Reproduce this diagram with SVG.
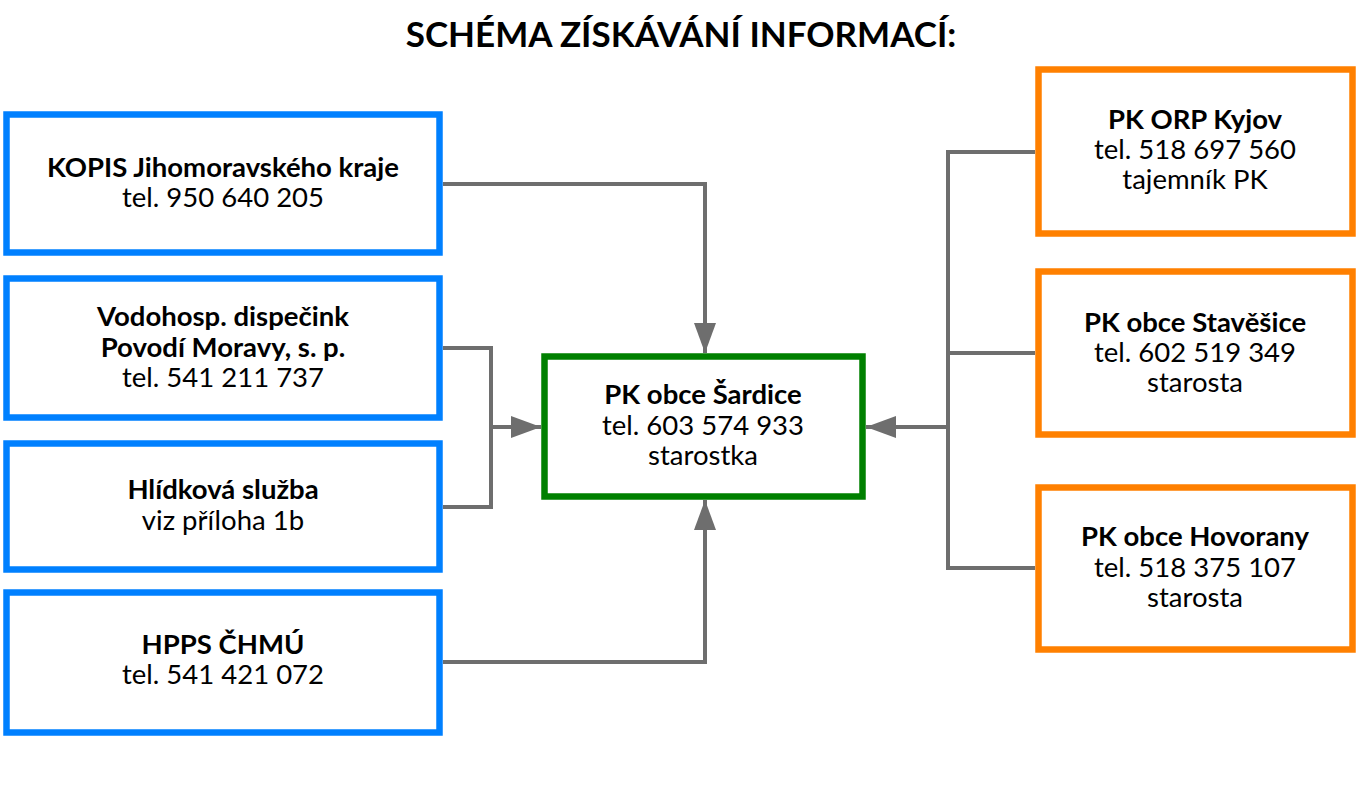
<svg xmlns="http://www.w3.org/2000/svg" width="1360" height="787" viewBox="0 0 1360 787">
<style>
.box{fill:#fff;stroke-width:6.5;stroke-linejoin:miter}
.blue{stroke:#0080ff}
.green{stroke:#008000}
.orange{stroke:#ff8000}
.t{font-family:Lato,"Liberation Sans",sans-serif;font-size:27.5px;fill:#000;text-anchor:middle}
.b{font-weight:bold}
.title{font-family:Lato,"Liberation Sans",sans-serif;font-size:35px;font-weight:bold;text-anchor:middle}
.c{fill:none;stroke:#6e6e6e;stroke-width:4;stroke-linejoin:miter}
</style>
<defs>
<marker id="arr" viewBox="0 0 30 22" refX="30" refY="11" markerWidth="30" markerHeight="22" markerUnits="userSpaceOnUse" orient="auto">
<path d="M0,0 L30,11 L0,22 Z" fill="#6e6e6e"/>
</marker>
</defs>
<rect width="1360" height="787" fill="#fff"/>
<text class="title" x="681" y="47">SCHÉMA ZÍSKÁVÁNÍ INFORMACÍ:</text>
<g id="connectors">
<path class="c" d="M443,184 H705 V353" marker-end="url(#arr)"/>
<path class="c" d="M443,348 H491 V507 H443"/>
<path class="c" d="M491,427 H541" marker-end="url(#arr)"/>
<path class="c" d="M443,662 H705 V500" marker-end="url(#arr)"/>
<path class="c" d="M1035,152 H948 V568 H1035"/>
<path class="c" d="M948,353 H1035"/>
<path class="c" d="M948,427 H866" marker-end="url(#arr)"/>
</g>
<g id="kopis">
<rect class="box blue" x="6.5" y="114.5" width="433" height="138"/>
<text class="t b" x="223" y="177">KOPIS Jihomoravského kraje</text>
<text class="t" x="223" y="207">tel. 950 640 205</text>
</g>
<g id="vodohosp">
<rect class="box blue" x="6.5" y="278.5" width="433" height="139"/>
<text class="t b" x="223" y="326">Vodohosp. dispečink</text>
<text class="t b" x="223" y="357">Povodí Moravy, s. p.</text>
<text class="t" x="223" y="387">tel. 541 211 737</text>
</g>
<g id="hlidkova">
<rect class="box blue" x="6.5" y="443.5" width="433" height="126"/>
<text class="t b" x="223" y="499">Hlídková služba</text>
<text class="t" x="223" y="530">viz příloha 1b</text>
</g>
<g id="hpps">
<rect class="box blue" x="6.5" y="592.5" width="433" height="140"/>
<text class="t b" x="223" y="654">HPPS ČHMÚ</text>
<text class="t" x="223" y="684">tel. 541 421 072</text>
</g>
<g id="sardice">
<rect class="box green" x="544.5" y="356.5" width="318" height="140"/>
<text class="t b" x="703" y="404">PK obce Šardice</text>
<text class="t" x="703" y="435">tel. 603 574 933</text>
<text class="t" x="703" y="465">starostka</text>
</g>
<g id="kyjov">
<rect class="box orange" x="1038.5" y="69.5" width="314" height="164"/>
<text class="t b" x="1195" y="129">PK ORP Kyjov</text>
<text class="t" x="1195" y="159">tel. 518 697 560</text>
<text class="t" x="1195" y="189">tajemník PK</text>
</g>
<g id="stavesice">
<rect class="box orange" x="1038.5" y="271.5" width="314" height="163"/>
<text class="t b" x="1195" y="332">PK obce Stavěšice</text>
<text class="t" x="1195" y="362">tel. 602 519 349</text>
<text class="t" x="1195" y="392">starosta</text>
</g>
<g id="hovorany">
<rect class="box orange" x="1038.5" y="487.5" width="314" height="162"/>
<text class="t b" x="1195" y="546">PK obce Hovorany</text>
<text class="t" x="1195" y="577">tel. 518 375 107</text>
<text class="t" x="1195" y="607">starosta</text>
</g>
</svg>
